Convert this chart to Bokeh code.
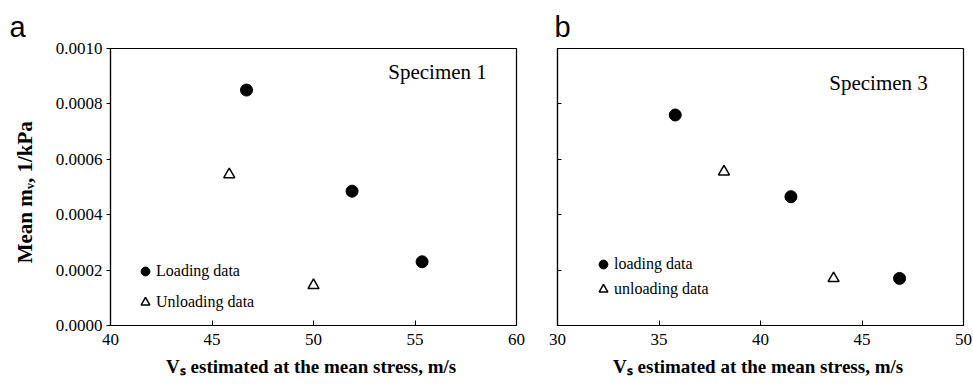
from bokeh.plotting import figure
from bokeh.layouts import row
from bokeh.models import (Range1d, FixedTicker, PrintfTickFormatter, Label, Legend,
                          LegendItem, CustomJSTickFormatter)
from bokeh.embed import file_html
from bokeh.resources import INLINE

# Panel a: Specimen 1
a_load_vs = [46.7, 51.9, 55.35]
a_load_mv = [0.00085, 0.000485, 0.00023]
a_unload_vs = [45.85, 50.0]
a_unload_mv = [0.000545, 0.000145]

# Panel b: Specimen 3
b_load_vs = [35.8, 41.5, 46.85]
b_load_mv = [0.00076, 0.000465, 0.00017]
b_unload_vs = [38.2, 43.6]
b_unload_mv = [0.000555, 0.00017]

y_ticks = [0.0, 0.0002, 0.0004, 0.0006, 0.0008, 0.0010]
a_x_ticks = [40, 45, 50, 55, 60]
b_x_ticks = [30, 35, 40, 45, 50]

SERIF = "Liberation Serif"
XLABEL = "V\u209b  estimated at the mean stress, m/s"
YLABEL = "Mean  m\u1d65,  1/kPa"


def make_panel(letter, offset, xr, xticks, width, bl, br, show_ylabels):
    p = figure(width=width, height=385, output_backend="svg", toolbar_location=None,
               x_range=Range1d(*xr), y_range=Range1d(0, 0.001),
               min_border_left=bl, min_border_right=br, min_border_top=48, min_border_bottom=60,
               title=letter)
    p.title.text_font = "Liberation Sans"
    p.title.text_font_size = "29px"
    p.title.text_font_style = "normal"
    p.title.text_color = "black"
    p.title.align = "left"
    p.title.offset = offset
    p.title.standoff = 12
    p.xgrid.visible = False
    p.ygrid.visible = False
    p.outline_line_color = "black"
    p.outline_line_width = 1.2
    p.background_fill_color = "white"
    p.border_fill_color = "white"

    xa = p.xaxis[0]
    xa.ticker = FixedTicker(ticks=xticks)
    xa.major_tick_in = 5
    xa.major_tick_out = 0
    xa.minor_tick_line_color = None
    xa.axis_line_color = "black"
    xa.axis_line_width = 1.2
    xa.major_label_text_font = SERIF
    xa.major_label_text_font_size = "17px"
    xa.major_label_text_color = "black"
    xa.major_label_standoff = 8
    xa.axis_label = XLABEL
    xa.axis_label_text_font = SERIF
    xa.axis_label_text_font_style = "bold"
    xa.axis_label_text_font_size = "19px"
    xa.axis_label_text_color = "black"
    xa.axis_label_standoff = 8

    ya = p.yaxis[0]
    ya.ticker = FixedTicker(ticks=y_ticks)
    ya.minor_tick_line_color = None
    ya.axis_line_color = "black"
    ya.axis_line_width = 1.2
    if show_ylabels:
        ya.major_tick_in = 0
        ya.major_tick_out = 4
        ya.formatter = PrintfTickFormatter(format="%.4f")
        ya.major_label_text_font = SERIF
        ya.major_label_text_font_size = "17px"
        ya.major_label_text_color = "black"
        ya.major_label_standoff = 4
        ya.axis_label = YLABEL
        ya.axis_label_text_font = SERIF
        ya.axis_label_text_font_style = "bold"
        ya.axis_label_text_font_size = "21px"
        ya.axis_label_text_color = "black"
        ya.axis_label_standoff = 16
    else:
        ya.major_tick_in = 4
        ya.major_tick_out = 0
        ya.formatter = CustomJSTickFormatter(code="return ''")
        ya.major_label_standoff = 0
    return p


pa = make_panel("a", -101, (40, 60), a_x_ticks, 530, 110, 14, True)
pb = make_panel("b", -3, (30, 50), b_x_ticks, 443, 27, 10, False)


def add_data(p, lx, ly, ux, uy, names, vx, vy, spacing):
    rl = p.scatter(lx, ly, marker="circle", size=12, fill_color="black", line_color="black")
    ru = p.scatter(ux, uy, marker="triangle", size=11, fill_color="white",
                   line_color="black", line_width=1.5)
    leg = Legend(items=[LegendItem(label=names[0], renderers=[rl]),
                        LegendItem(label=names[1], renderers=[ru])],
                 location=(vx, vy), padding=0, spacing=spacing,
                 glyph_width=22, glyph_height=22, label_standoff=0,
                 label_text_font=SERIF, label_text_font_size="16px",
                 label_text_color="black",
                 background_fill_alpha=0, border_line_color=None)
    p.add_layout(leg, "center")


add_data(pa, a_load_vs, a_load_mv, a_unload_vs, a_unload_mv,
         ["Loading data", "Unloading data"], 24, 12, 9)
add_data(pb, b_load_vs, b_load_mv, b_unload_vs, b_unload_mv,
         ["loading data", "unloading data"], 35, 25, 3)

pa.add_layout(Label(x=327, y=254, x_units="screen", y_units="screen", text="Specimen 1",
                    text_font=SERIF, text_font_size="21px", text_align="center",
                    text_baseline="middle", text_color="black"))
pb.add_layout(Label(x=321, y=243, x_units="screen", y_units="screen", text="Specimen 3",
                    text_font=SERIF, text_font_size="21px", text_align="center",
                    text_baseline="middle", text_color="black"))

layout = row(pa, pb)
open("out.html", "w").write(file_html(layout, INLINE))
